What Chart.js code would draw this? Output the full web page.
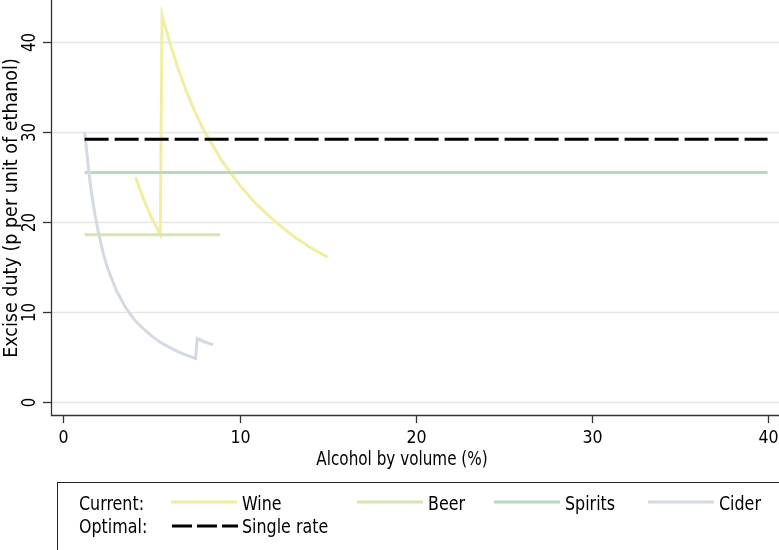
<!DOCTYPE html>
<html>
<head>
<meta charset="utf-8">
<script src="https://cdn.jsdelivr.net/npm/chart.js@4/dist/chart.umd.min.js"></script>
<style>
  body { margin: 0; background: #fff; }
  canvas { display: block; }
</style>
</head>
<body>
<canvas id="chart" width="779" height="550"></canvas>
<script>
// values (ABV %, duty in p per unit of ethanol)
const wineAbv = [4.1, 4.5, 5.0, 5.5, 5.6, 6.0, 6.5, 7.0, 7.5, 8.0, 9.0, 10.0, 11.0, 12.0, 13.0, 14.0, 15.0];
const wineDuty = [25.0, 22.8, 20.5, 18.6, 43.0, 40.2, 37.1, 34.4, 32.1, 30.1, 26.8, 24.1, 21.9, 20.1, 18.5, 17.2, 16.1];
const beerAbv = [1.2, 8.9];
const beerDuty = [18.6, 18.6];
const spiritsAbv = [1.2, 40];
const spiritsDuty = [25.5, 25.5];
const ciderAbv = [1.2, 1.3, 1.4, 1.5, 1.6, 1.8, 2.0, 2.25, 2.5, 3.0, 3.5, 4.0, 4.5, 5.0, 5.5, 6.0, 6.5, 7.0, 7.5, 7.6, 8.0, 8.5];
const ciderDuty = [30.0, 28.2, 26.3, 24.6, 23.1, 20.7, 18.7, 16.6, 14.9, 12.4, 10.6, 9.2, 8.2, 7.35, 6.65, 6.1, 5.6, 5.2, 4.85, 7.05, 6.7, 6.35];
const singleAbv = [1.2, 40];
const singleDuty = [29.2, 29.2];

const xTicks = [0, 10, 20, 30, 40];
const yTicks = [0, 10, 20, 30, 40];

const colors = {
  wine: '#f1eea2',
  beer: '#d6e6b2',
  spirits: '#b6dabc',
  cider: '#d3dae3',
  single: '#000000'
};

function pts(xs, ys) {
  return xs.map((x, i) => ({ x: x, y: ys[i] }));
}

const FONT = '"DejaVu Sans Condensed", "DejaVu Sans", sans-serif';

// sx squeezes the text along its reading direction
function drawText(ctx, s, x, y, size, align, rot, sx) {
  ctx.save();
  ctx.translate(x, y);
  if (rot) ctx.rotate(rot);
  if (sx) ctx.scale(sx, 1);
  ctx.font = size + 'px ' + FONT;
  try { ctx.fontStretch = 'condensed'; } catch (e) {}
  ctx.fillStyle = '#000';
  ctx.textAlign = align || 'left';
  ctx.textBaseline = 'alphabetic';
  ctx.fillText(s, 0, 0);
  ctx.restore();
}

const axesPlugin = {
  id: 'stataAxes',
  beforeDatasetsDraw(chart) {
    const ctx = chart.ctx;
    const a = chart.chartArea;
    const ys = chart.scales.y;
    ctx.save();
    ctx.strokeStyle = '#e6e6e6';
    ctx.lineWidth = 1.5;
    yTicks.forEach(v => {
      const py = Math.round(ys.getPixelForValue(v)) + 0.5;
      ctx.beginPath();
      ctx.moveTo(a.left, py);
      ctx.lineTo(a.right, py);
      ctx.stroke();
    });
    ctx.restore();
  },
  afterDraw(chart) {
    const ctx = chart.ctx;
    const a = chart.chartArea;
    const xs = chart.scales.x;
    const ys = chart.scales.y;
    ctx.save();
    ctx.strokeStyle = '#333';
    ctx.lineWidth = 1.3;
    // axis lines
    ctx.beginPath();
    ctx.moveTo(a.left + 0.5, a.top);
    ctx.lineTo(a.left + 0.5, a.bottom + 0.5);
    ctx.lineTo(a.right, a.bottom + 0.5);
    ctx.stroke();
    // ticks
    yTicks.forEach(v => {
      const py = Math.round(ys.getPixelForValue(v)) + 0.5;
      ctx.beginPath();
      ctx.moveTo(a.left - 8, py);
      ctx.lineTo(a.left, py);
      ctx.stroke();
      drawText(ctx, String(v), 35, py, 19, 'center', -Math.PI / 2, 0.88);
    });
    xTicks.forEach(v => {
      const px = Math.round(xs.getPixelForValue(v)) + 0.5;
      ctx.beginPath();
      ctx.moveTo(px, a.bottom);
      ctx.lineTo(px, a.bottom + 8);
      ctx.stroke();
      drawText(ctx, String(v), px, 443, 18.5, 'center', 0, 0.95);
    });
    // titles
    drawText(ctx, 'Alcohol by volume (%)', 402, 465, 19, 'center', 0, 0.89);
    drawText(ctx, 'Excise duty (p per unit of ethanol)', 17, 208, 19.5, 'center', -Math.PI / 2);

    // legend
    ctx.strokeStyle = '#222';
    ctx.lineWidth = 1;
    ctx.strokeRect(57.5, 482.5, 760, 100);
    drawText(ctx, 'Current:', 79, 510, 19, 'left', 0, 0.93);
    drawText(ctx, 'Optimal:', 79, 533, 19, 'left', 0, 0.93);
    const items = [
      { label: 'Wine', color: colors.wine, x: 171 },
      { label: 'Beer', color: colors.beer, x: 357 },
      { label: 'Spirits', color: colors.spirits, x: 494 },
      { label: 'Cider', color: colors.cider, x: 648 }
    ];
    ctx.lineWidth = 3;
    items.forEach(it => {
      ctx.strokeStyle = it.color;
      ctx.beginPath();
      ctx.moveTo(it.x, 502);
      ctx.lineTo(it.x + 66, 502);
      ctx.stroke();
      drawText(ctx, it.label, it.x + 71, 510, 19, 'left', 0, 0.93);
    });
    ctx.strokeStyle = '#000';
    ctx.setLineDash([20, 5]);
    ctx.beginPath();
    ctx.moveTo(172, 526);
    ctx.lineTo(238, 526);
    ctx.stroke();
    ctx.setLineDash([]);
    drawText(ctx, 'Single rate', 242, 533, 19, 'left', 0, 0.93);
    ctx.restore();
  }
};

function ds(label, xsArr, ysArr, color, extra) {
  return Object.assign({
    label: label,
    data: pts(xsArr, ysArr),
    borderColor: color,
    backgroundColor: color,
    borderWidth: 3,
    pointRadius: 0,
    tension: 0,
    fill: false,
    clip: false
  }, extra || {});
}

new Chart(document.getElementById('chart').getContext('2d'), {
  type: 'line',
  data: {
    datasets: [
      ds('Single rate', singleAbv, singleDuty, colors.single, { borderDash: [24, 6] }),
      ds('Cider', ciderAbv, ciderDuty, colors.cider),
      ds('Spirits', spiritsAbv, spiritsDuty, colors.spirits),
      ds('Beer', beerAbv, beerDuty, colors.beer),
      ds('Wine', wineAbv, wineDuty, colors.wine)
    ]
  },
  options: {
    responsive: false,
    animation: false,
    devicePixelRatio: 1,
    layout: { padding: { left: 51, right: 0, top: 0, bottom: 135 } },
    plugins: { legend: { display: false }, tooltip: { enabled: false } },
    scales: {
      x: { type: 'linear', display: false, min: -0.71, max: 40.65 },
      y: { type: 'linear', display: false, min: -1.44, max: 44.67 }
    }
  },
  plugins: [axesPlugin]
});
</script>
</body>
</html>
